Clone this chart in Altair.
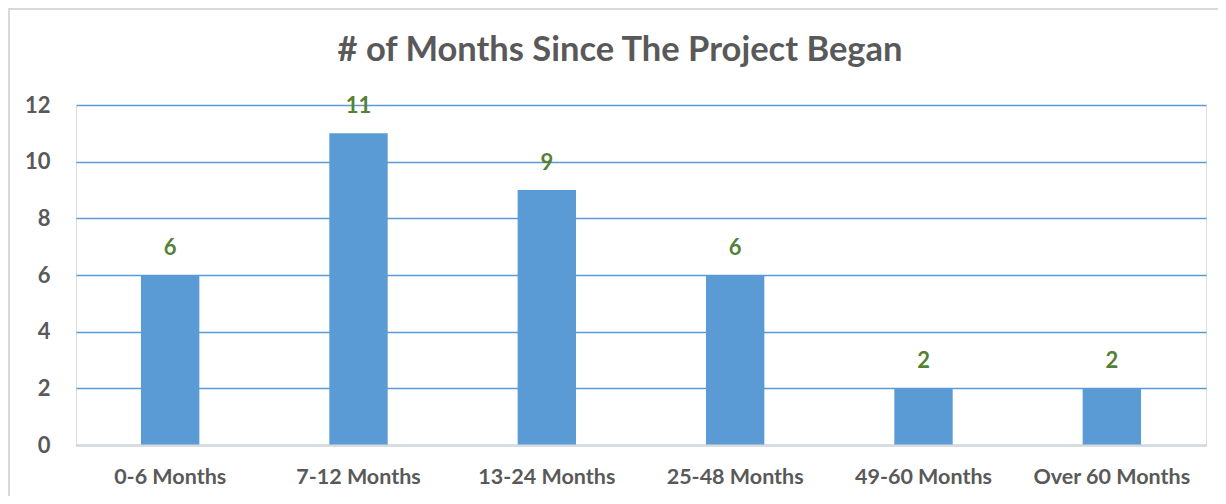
import altair as alt
import pandas as pd

categories = ["0-6 Months", "7-12 Months", "13-24 Months", "25-48 Months", "49-60 Months", "Over 60 Months"]
counts = [6, 11, 9, 6, 2, 2]
title_text = "# of Months Since The Project Began"

df = pd.DataFrame({"cat": categories, "n": counts})
FONT = "Lato"
GRAY = "#595959"

x = alt.X("cat:N", sort=categories, title=None,
          scale=alt.Scale(paddingInner=0.69, paddingOuter=0.345),
          axis=alt.Axis(labelAngle=0, labelFont=FONT, labelFontSize=21.5, labelFontWeight="bold",
                        labelColor=GRAY, labelPadding=21, ticks=False, domainColor="#D9D9D9",
                        domainWidth=2, zindex=1, grid=False))
y = alt.Y("n:Q", title=None, scale=alt.Scale(domain=[0, 12]),
          axis=alt.Axis(values=[0, 2, 4, 6, 8, 10, 12], labelFont=FONT, labelFontSize=22,
                        labelFontWeight="bold", labelColor=GRAY, labelPadding=26, ticks=False,
                        domain=False, gridColor="#5B9BD5", gridWidth=1.5))

base = alt.Chart(df)
bars = base.mark_bar(color="#5B9BD5").encode(x=x, y=y)
labels = base.mark_text(font=FONT, fontSize=22, fontWeight="bold", color="#538135",
                        baseline="alphabetic", dy=-20).encode(x=x, y=y, text="n:Q")

border_top = base.mark_rule(color="#D9D9D9", strokeWidth=2).encode(
    x=alt.value(-68), x2=alt.value(1142), y=alt.value(-96))
border_left = base.mark_rule(color="#D9D9D9", strokeWidth=2).encode(
    x=alt.value(-67), y=alt.value(-97), y2=alt.value(400))

chart = alt.layer(bars, labels, border_top, border_left).properties(
    width=1130, height=340,
    autosize=alt.AutoSizeParams(type="none"),
    padding={"left": 68, "top": 97, "right": 12, "bottom": 51},
    title=alt.TitleParams(title_text, font=FONT, fontSize=34.5, fontWeight="bold", color=GRAY,
                          anchor="middle", dx=-21, offset=-61),
).configure_view(stroke=None).configure(background="white")

chart.save("out.html", embed_options={"renderer": "svg", "actions": False})
